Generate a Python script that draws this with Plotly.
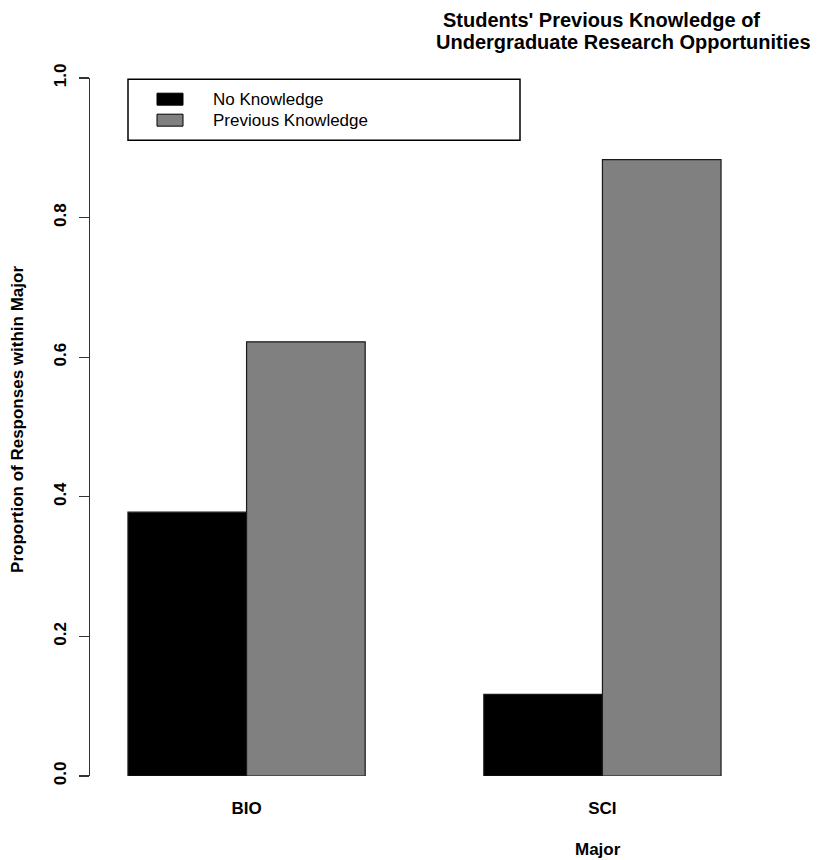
import plotly.graph_objects as go

majors = ["BIO", "SCI"]
no_knowledge = [0.378, 0.117]
previous_knowledge = [0.622, 0.883]
series_names = ["No Knowledge", "Previous Knowledge"]
series_colors = ["#000000", "#808080"]
y_ticks = [0.0, 0.2, 0.4, 0.6, 0.8, 1.0]
y_ticktext = ["0.0", "0.2", "0.4", "0.6", "0.8", "1.0"]

W, H = 817, 860
L, R, T, B = 90, 759, 77.8, 776.3

def px(x):
    return (x - L) / (R - L)

def py(y):
    return (B - y) / (B - T)

FONT = "Liberation Sans, Arial, Helvetica, sans-serif"

fig = go.Figure()
for name, vals, col in zip(series_names, [no_knowledge, previous_knowledge], series_colors):
    fig.add_trace(go.Bar(x=majors, y=vals, name=name, showlegend=False,
                         marker=dict(color=col, line=dict(color="#1a1a1a", width=1.2))))

fig.update_layout(
    width=W, height=H,
    margin=dict(l=L, r=W - R, t=T, b=H - B, pad=0),
    paper_bgcolor="white", plot_bgcolor="white",
    barmode="group", bargap=1/3, bargroupgap=0,
    font=dict(family=FONT, color="black", size=17),
    showlegend=False,
    xaxis=dict(range=[-0.44, 1.44], showline=False, showgrid=False, zeroline=False,
               ticks="", tickfont=dict(size=17, family=FONT, weight="bold"),
               ticklabelstandoff=20, fixedrange=True),
    yaxis=dict(range=[0, 1], showline=True, linecolor="#333", linewidth=1.2,
               showgrid=False, zeroline=False, ticks="outside", ticklen=10,
               tickwidth=1.2, tickcolor="#333",
               tickvals=y_ticks, ticktext=y_ticktext, tickangle=-90,
               tickfont=dict(size=17, family=FONT, weight="bold"),
               ticklabelstandoff=6, fixedrange=True),
)

# legend box (drawn as in the R original)
fig.add_shape(type="rect", xref="paper", yref="paper",
              x0=px(128), x1=px(520), y0=py(140), y1=py(79),
              line=dict(color="black", width=1.5), fillcolor="white", layer="above")
for i, (name, col) in enumerate(zip(series_names, series_colors)):
    cy = 99 + 21 * i
    fig.add_shape(type="rect", xref="paper", yref="paper",
                  x0=px(157), x1=px(183), y0=py(cy + 6), y1=py(cy - 6),
                  line=dict(color="black", width=1), fillcolor=col, layer="above")
    fig.add_annotation(text=name, x=px(211), y=py(cy), xref="paper", yref="paper",
                       xanchor="left", yanchor="middle", showarrow=False,
                       font=dict(size=17, family=FONT, color="black"))

annots = [
    dict(text="<b>Students' Previous Knowledge of</b>", x=px(601), y=py(20), size=20),
    dict(text="<b>Undergraduate Research Opportunities</b>", x=px(623), y=py(42), size=20),
    dict(text="<b>Major</b>", x=px(598), y=py(850), size=17),
]
for a in annots:
    fig.add_annotation(text=a["text"], x=a["x"], y=a["y"], xref="paper", yref="paper",
                       xanchor="center", yanchor="middle", showarrow=False,
                       font=dict(size=a["size"], family=FONT, color="black"))
fig.add_annotation(text="<b>Proportion of Responses within Major</b>", x=px(18), y=py(420),
                   xref="paper", yref="paper", xanchor="center", yanchor="middle",
                   showarrow=False, textangle=-90,
                   font=dict(size=17, family=FONT, color="black"))

fig.write_html("out.html", config={"displayModeBar": False, "staticPlot": True},
               post_script="document.body.style.margin='0';document.body.style.overflow='hidden';")
